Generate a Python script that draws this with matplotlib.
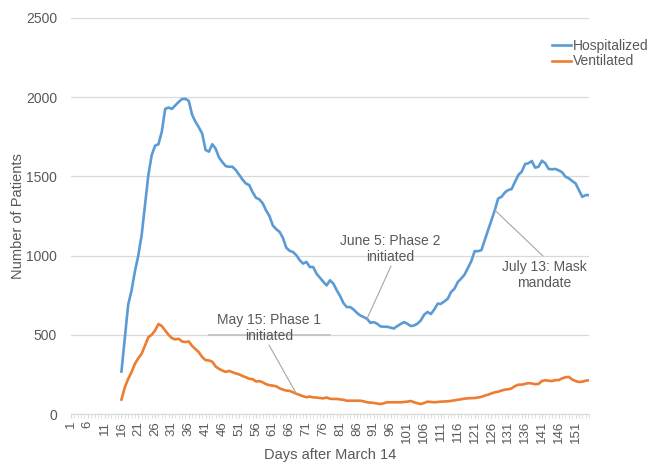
import matplotlib
matplotlib.use("Agg")
import matplotlib.pyplot as plt
import numpy as np

plt.rcParams['font.family'] = ['Liberation Sans', 'DejaVu Sans']

# Data
days = list(range(1, 156))
start_day = 16
hospitalized = [268, 480, 690, 780, 900, 1000, 1129, 1319, 1509, 1635, 1694, 1703, 1783, 1926, 1935,
                1926, 1948, 1970, 1988, 1990, 1977, 1890, 1845, 1810, 1770, 1667, 1656, 1703, 1675, 1620,
                1590, 1565, 1561, 1561, 1540, 1510, 1480, 1455, 1445, 1400, 1365, 1355, 1330, 1285, 1250,
                1190, 1167, 1150, 1112, 1050, 1030, 1023, 1002, 971, 950, 960, 928, 928, 886, 860,
                835, 812, 844, 823, 781, 745, 700, 675, 675, 660, 639, 622, 612, 601, 576,
                580, 570, 553, 551, 551, 545, 540, 555, 568, 580, 570, 555, 559, 570, 591,
                627, 644, 631, 660, 696, 696, 711, 728, 770, 791, 833, 855, 880, 922, 964,
                1028, 1028, 1034, 1097, 1160, 1224, 1287, 1361, 1371, 1399, 1414, 1420, 1466, 1509, 1530,
                1578, 1583, 1597, 1555, 1561, 1599, 1583, 1547, 1545, 1547, 1538, 1526, 1498, 1488, 1471,
                1456, 1414, 1371, 1382, 1382]
ventilated = [91, 169, 222, 264, 317, 352, 380, 432, 485, 500, 528, 568, 555, 528, 500,
              479, 471, 475, 458, 454, 458, 430, 410, 390, 360, 340, 338, 330, 300, 285,
              274, 266, 272, 264, 256, 250, 240, 232, 222, 220, 205, 208, 200, 188, 182,
              179, 175, 162, 154, 148, 146, 137, 128, 120, 112, 106, 110, 105, 104, 101,
              99, 104, 96, 95, 95, 92, 90, 84, 84, 84, 84, 84, 80, 74, 72,
              70, 66, 63, 68, 74, 74, 74, 74, 74, 76, 78, 82, 74, 68, 63,
              70, 78, 76, 74, 76, 78, 79, 80, 83, 86, 90, 93, 97, 99, 100,
              101, 104, 108, 116, 122, 130, 137, 141, 148, 154, 156, 162, 176, 185, 185,
              190, 195, 193, 188, 190, 208, 213, 210, 208, 214, 214, 225, 232, 234, 218,
              208, 202, 204, 210, 213]
series_days = list(range(start_day, start_day + len(hospitalized)))

annotations = [
    ("May 15: Phase 1\ninitiated", 68),
    ("June 5: Phase 2\ninitiated", 89),
    ("July 13: Mask\nmandate", 127),
]

TXT = '#595959'
GRID = '#d9d9d9'

W, H = 651, 462
AX_L, AX_R, AX_T, AX_B = 71, 589, 18, 414

fig = plt.figure(figsize=(W / 100, H / 100), dpi=100)
ax = fig.add_axes([AX_L / W, 1 - AX_B / H, (AX_R - AX_L) / W, (AX_B - AX_T) / H])

ax.plot(series_days, hospitalized, color='#5B9BD5', lw=1.9, label='Hospitalized', solid_joinstyle='round')
ax.plot(series_days, ventilated, color='#ED7D31', lw=1.9, label='Ventilated', solid_joinstyle='round')

ax.set_xlim(1, 155)
ax.set_ylim(0, 2500)
ax.set_yticks([0, 500, 1000, 1500, 2000, 2500])
ax.set_xticks(days[::5])
ax.set_xticklabels([str(d) for d in days[::5]], rotation=90)
ax.set_xticks(days, minor=True)
ax.grid(axis='y', color=GRID, lw=0.9)
ax.set_axisbelow(True)
for s in ['top', 'right', 'left']:
    ax.spines[s].set_visible(False)
ax.spines['bottom'].set_color(GRID)
ax.tick_params(axis='y', length=0, labelsize=10, labelcolor=TXT, pad=10)
ax.tick_params(axis='x', which='both', length=3, color=GRID, labelsize=9.5, labelcolor=TXT, pad=2)

ax.set_xlabel('Days after March 14', color=TXT, fontsize=10.5)
ax.set_ylabel('Number of Patients', color=TXT, fontsize=10.5)
ax.xaxis.set_label_coords(0.5 * ((AX_L + AX_R) / 2 - AX_L) / ((AX_R - AX_L) / 2) / 1.0 if False else (330 - AX_L) / (AX_R - AX_L),
                          (AX_B - 455) / (AX_B - AX_T))
ax.xaxis.label.set_va('center')
ax.yaxis.set_label_coords((18 - AX_L) / (AX_R - AX_L), (AX_B - 216) / (AX_B - AX_T))
ax.yaxis.label.set_va('center')

# darker gridline segment behind first annotation
ax.plot([42, 78], [500, 500], color='#c0c0c0', lw=1.2, zorder=1)

# annotations (text position in figure pixels)
text_pos = [(269, 328), (390, 249), (544, 275)]
line_start = [(269, 345), (391, 266), (543, 256)]
for (txt, d), (tx, ty), (lx, ly) in zip(annotations, text_pos, line_start):
    yv = hospitalized[d - start_day] if d > 80 else ventilated[d - start_day]
    ax.annotate('', xy=(d, yv), xycoords='data',
                xytext=(lx / W, 1 - ly / H), textcoords='figure fraction',
                arrowprops=dict(arrowstyle='-', color='#a6a6a6', lw=0.8, shrinkA=0, shrinkB=0))
    fig.text(tx / W, 1 - ty / H, txt, ha='center', va='center', color=TXT,
             fontsize=10, linespacing=1.2)

leg = fig.legend(loc='upper left', bbox_to_anchor=(552 / W, 1 - 39 / H), frameon=False,
                 fontsize=10, handlelength=1.4, handletextpad=0.1, labelspacing=0.1,
                 borderpad=0, borderaxespad=0)
for t in leg.get_texts():
    t.set_color(TXT)

fig.savefig('out.png', dpi=100)
